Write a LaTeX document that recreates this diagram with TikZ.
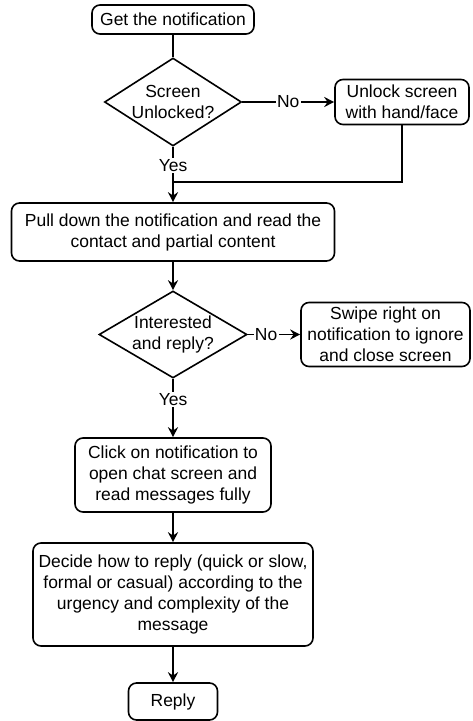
\documentclass[tikz,border=0pt]{standalone}
\usepackage{fontspec}
\setmainfont{Liberation Sans}
\usetikzlibrary{shapes.geometric,arrows.meta}

\tikzset{every picture/.style={line width=1.2pt}}
\tikzset{
  procbox/.style={draw, rounded corners=6pt, align=center, inner sep=0pt},
  decbox/.style={draw, diamond, align=center, inner sep=-2.5pt},
  flowarr/.style={-{Stealth[length=7.5pt,width=7.5pt,inset=2.5pt]}},
  yesno/.style={fill=white, inner sep=1pt}
}

\begin{document}
\begin{tikzpicture}[x=0.75pt,y=0.75pt,yscale=-1,xscale=1,font=\fontsize{13.1}{15.75}\selectfont]
			\useasboundingbox (0,0) rectangle (472,721);
			
			%Rounded Rect: start
			\node [procbox, minimum width=121.5pt, minimum height=21.75pt] (get) at (173,19.5) {Get the notification};
			%Decision: screen
			\node [decbox, aspect=1.56, minimum width=102.75pt, minimum height=66pt] (unl) at (173,102) {Screen\\Unlocked?};
			%Rounded Rect: unlock
			\node [procbox, minimum width=100.5pt, minimum height=33.75pt] (unk) at (402,102) {Unlock screen\\with hand/face};
			%Rounded Rect: pull down
			\node [procbox, minimum width=242.25pt, minimum height=43.5pt] (pull) at (173,232) {Pull down the notification and read the\\contact and partial content};
			%Decision: interest
			\node [decbox, aspect=1.7, minimum width=111pt, minimum height=65.25pt] (int) at (173,334.5) {Interested\\and reply?};
			%Rounded Rect: swipe
			\node [procbox, minimum width=126.75pt, minimum height=48pt] (swp) at (385.5,334.5) {Swipe right on\\notification to ignore\\and close screen};
			%Rounded Rect: click
			\node [procbox, minimum width=147pt, minimum height=55.5pt] (clk) at (173,475) {Click on notification to\\open chat screen and\\read messages fully};
			%Rounded Rect: decide
			\node [procbox, minimum width=210pt, minimum height=77.25pt] (dec) at (173,594.5) {Decide how to reply (quick or slow,\\formal or casual) according to the\\urgency and complexity of the\\message};
			%Rounded Rect: reply
			\node [procbox, minimum width=66.75pt, minimum height=27.75pt] (rep) at (173,701.5) {Reply};
			
			\coordinate (jn) at (173,182);
			
			%Connectors
			\draw (get) -- (unl);
			\draw [flowarr] (unl) -- node [yesno] {No} (unk);
			\draw (unk.south) |- (jn);
			\draw [flowarr] (unl) -- node [yesno, pos=0.33] {Yes} (pull);
			\draw [flowarr] (pull) -- (int);
			\draw [flowarr] (int) -- node [yesno, pos=0.35] {No} (swp);
			\draw [flowarr] (int) -- node [yesno, pos=0.35] {Yes} (clk);
			\draw [flowarr] (clk) -- (dec);
			\draw [flowarr] (dec) -- (rep);
			
\end{tikzpicture}
\end{document}
